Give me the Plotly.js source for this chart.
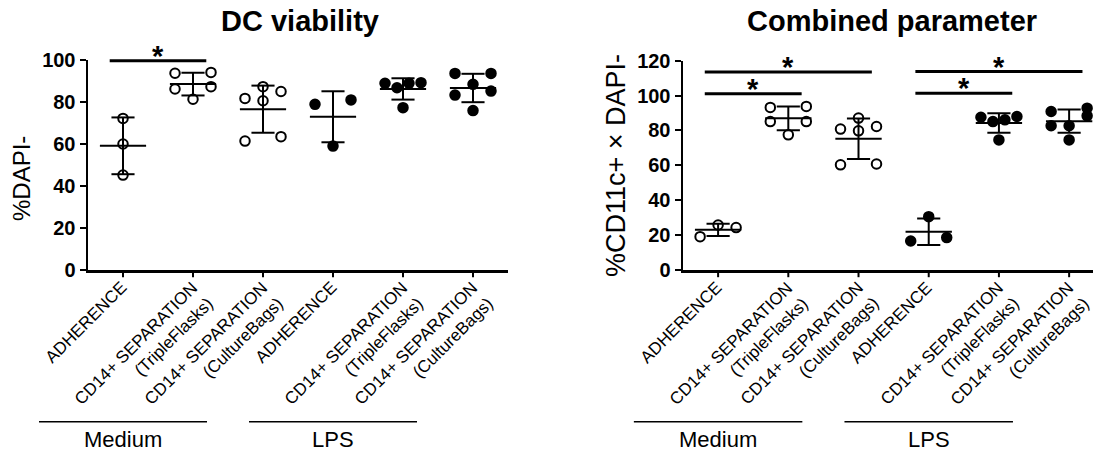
<!DOCTYPE html>
<html><head><meta charset="utf-8">
<script src="https://cdn.plot.ly/plotly-3.0.1.min.js"></script>
<style>html,body{margin:0;padding:0;background:#fff}#chart{width:1094px;height:452px}</style>
</head><body><div id="chart"></div>
<script>
// ---------------- DATA ----------------
const categories = ['ADHERENCE', 'CD14+ SEPARATION<br>(TripleFlasks)', 'CD14+ SEPARATION<br>(CultureBags)',
                    'ADHERENCE', 'CD14+ SEPARATION<br>(TripleFlasks)', 'CD14+ SEPARATION<br>(CultureBags)'];
const treatments = ['Medium', 'LPS'];          // each covers three consecutive categories
const filledGroups = [false, false, false, true, true, true];

// DC viability (%DAPI-)
const viabMedAdh = [72.2, 60.0, 45.2];
const viabMedTF  = [93.7, 94.1, 86.2, 87.3, 81.3];
const viabMedCB  = [87.3, 81.7, 80.6, 85.0, 61.4, 63.5];
const viabLpsAdh = [81.0, 78.9, 59.0];
const viabLpsTF  = [88.9, 86.8, 88.9, 89.2, 77.3];
const viabLpsCB  = [93.6, 93.6, 88.4, 85.2, 83.3, 75.9];

// Combined parameter (%CD11c+ x DAPI-)
const combMedAdh = [19.1, 25.8, 24.3];
const combMedTF  = [93.2, 93.8, 85.1, 85.1, 77.5];
const combMedCB  = [87.1, 80.8, 79.8, 82.3, 60.3, 60.8];
const combLpsAdh = [30.6, 16.6, 18.6];
const combLpsTF  = [87.6, 85.1, 86.1, 88.0, 74.6];
const combLpsCB  = [88.4, 92.8, 90.9, 82.7, 82.7, 74.6];

// significance comparisons: from group, to group, bar level
const viabSigFrom = [0];
const viabSigTo   = [1];
const viabSigLevel = [99.7];
const combSigFrom = [0, 0, 3, 3];
const combSigTo   = [1, 2, 4, 5];
const combSigLevel = [101.1, 113.5, 101.4, 113.8];

const viabTitle = 'DC viability', viabYTitle = '%DAPI-';
const combTitle = 'Combined parameter', combYTitle = '%CD11c+ × DAPI-';
const viabYTicks = [0, 20, 40, 60, 80, 100];
const combYTicks = [0, 20, 40, 60, 80, 100, 120];

// ---------------- LAYOUT / STYLE ----------------
const W = 1094, H = 452;
const FONT = '"Liberation Sans", Arial, Helvetica, sans-serif';
const MARKER = 9.5, MLINE = 2;
const ROW_PX = 10, SPREAD_PX = 18;       // beeswarm parameters
const MEAN_HALF = 0.33, CAP_HALF = 0.165, SIG_EXT = 0.19;
const XTICK_LEN = 6;
const XLAB_FS = 17, XLAB_DX = 2, XLAB_DY = 14;   // rotated category label placement

const panels = [
  { groups: [viabMedAdh, viabMedTF, viabMedCB, viabLpsAdh, viabLpsTF, viabLpsCB],
    sigFrom: viabSigFrom, sigTo: viabSigTo, sigLevel: viabSigLevel,
    title: viabTitle, ytitle: viabYTitle, yticks: viabYTicks, ytitleSize: 24,
    xa: 'x', ya: 'y', xdom: [88 / W, 508 / W], ydom: [1 - 270 / H, 1 - 60 / H],
    xr: [-0.5, 5.5], yr: [0, 100], titleX: 300, ytitleX: 21, ytitleY: 179 },
  { groups: [combMedAdh, combMedTF, combMedCB, combLpsAdh, combLpsTF, combLpsCB],
    sigFrom: combSigFrom, sigTo: combSigTo, sigLevel: combSigLevel,
    title: combTitle, ytitle: combYTitle, yticks: combYTicks, ytitleSize: 27,
    xa: 'x2', ya: 'y2', xdom: [683 / W, 1093 / W], ydom: [1 - 270 / H, 1 - 60.7 / H],
    xr: [-0.5, 5.34], yr: [0, 120], titleX: 892, ytitleX: 616, ytitleY: 166 }
];

function mean(a) { return a.reduce((s, v) => s + v, 0) / a.length; }
function sd(a) { const m = mean(a); return Math.sqrt(a.reduce((s, v) => s + (v - m) * (v - m), 0) / (a.length - 1)); }

function swarm(vals, center, pxPerX, pxPerY) {
  const idx = vals.map((v, i) => i).sort((a, b) => vals[a] - vals[b]);
  const off = new Array(vals.length).fill(0);
  let i = 0;
  while (i < idx.length) {
    const start = vals[idx[i]];
    let j = i;
    while (j < idx.length && (vals[idx[j]] - start) * pxPerY < ROW_PX) j++;
    const n = j - i;
    const slots = [];
    if (n === 1) slots.push(0);
    else for (let k = 0; k < n; k++) slots.push(-SPREAD_PX + 2 * SPREAD_PX * k / (n - 1));
    slots.sort((a, b) => (Math.abs(a) - Math.abs(b)) > 1e-9 ? 1 : (Math.abs(b) - Math.abs(a)) > 1e-9 ? -1 : a - b);
    for (let k = 0; k < n; k++) off[idx[i + k]] = slots[k] / pxPerX;
    i = j;
  }
  return vals.map((v, k) => center + off[k]);
}

const traces = [], shapes = [], annotations = [];
const layout = {
  width: W, height: H, margin: { l: 0, r: 0, t: 0, b: 0 },
  paper_bgcolor: '#fff', plot_bgcolor: '#fff', showlegend: false,
  font: { family: FONT, color: '#000' }
};

panels.forEach((p, pi) => {
  const pxPerX = (p.xdom[1] - p.xdom[0]) * W / (p.xr[1] - p.xr[0]);
  const pxPerY = (p.ydom[1] - p.ydom[0]) * H / (p.yr[1] - p.yr[0]);
  const toPx = x => p.xdom[0] + (x - p.xr[0]) / (p.xr[1] - p.xr[0]) * (p.xdom[1] - p.xdom[0]);
  const toPy = y => p.ydom[0] + (y - p.yr[0]) / (p.yr[1] - p.yr[0]) * (p.ydom[1] - p.ydom[0]);

  // points
  p.groups.forEach((vals, g) => {
    traces.push({
      type: 'scatter', mode: 'markers', xaxis: p.xa, yaxis: p.ya,
      x: swarm(vals, g, pxPerX, pxPerY), y: vals, cliponaxis: false, hoverinfo: 'y',
      marker: { symbol: 'circle', size: MARKER, color: filledGroups[g] ? '#000' : '#fff',
                line: { color: '#000', width: MLINE } }
    });
  });
  // mean +- SD
  const ex = [], ey = [];
  p.groups.forEach((vals, g) => {
    const m = mean(vals), s = sd(vals);
    ex.push(g - MEAN_HALF, g + MEAN_HALF, null); ey.push(m, m, null);
    ex.push(g, g, null); ey.push(m - s, m + s, null);
    ex.push(g - CAP_HALF, g + CAP_HALF, null); ey.push(m + s, m + s, null);
    ex.push(g - CAP_HALF, g + CAP_HALF, null); ey.push(m - s, m - s, null);
  });
  traces.push({ type: 'scatter', mode: 'lines', xaxis: p.xa, yaxis: p.ya, x: ex, y: ey,
                hoverinfo: 'skip', line: { color: '#000', width: 2 } });

  // x tick marks and rotated category labels
  const axisPxY = (1 - p.ydom[0]) * H;
  const lh = 1.3 * XLAB_FS, r2 = Math.SQRT2;
  categories.forEach((c, i) => {
    const y0 = p.ydom[0];
    shapes.push({ type: 'line', xref: 'paper', yref: 'paper', x0: toPx(i), x1: toPx(i),
                  y0: y0, y1: y0 - (XTICK_LEN + 1.2) / H, line: { color: '#000', width: 2 } });
    const n = c.split('<br>').length;
    const h = n * lh + 2;
    const qx = toPx(i) * W + XLAB_DX, qy = axisPxY + XLAB_DY;      // end of first line
    const px = qx + (n - 1) * lh / 2 / r2, py = qy + (n - 1) * lh / 2 / r2;
    const ax = px + h / (2 * r2), ay = py - h / (2 * r2);
    annotations.push({ xref: 'paper', yref: 'paper', x: ax / W, y: 1 - ay / H,
                       xanchor: 'right', yanchor: 'top', align: 'right', textangle: -45,
                       showarrow: false, text: c, font: { family: FONT, size: XLAB_FS, color: '#000' } });
  });

  // significance bars
  p.sigFrom.forEach((f, k) => {
    const x0 = f - SIG_EXT, x1 = p.sigTo[k] + SIG_EXT, yv = p.sigLevel[k];
    shapes.push({ type: 'line', xref: 'paper', yref: 'paper', x0: toPx(x0), x1: toPx(x1),
                  y0: toPy(yv), y1: toPy(yv), line: { color: '#000', width: 3 } });
    annotations.push({ xref: 'paper', yref: 'paper', x: toPx((x0 + x1) / 2), y: toPy(yv),
                       xanchor: 'center', yanchor: 'bottom', yshift: -13, showarrow: false, text: '*',
                       font: { family: FONT, size: 29, weight: 'bold', color: '#000' } });
  });

  // treatment group lines and labels
  treatments.forEach((t, ti) => {
    const c = ti * 3; // label centred under first category (rotated labels lean left)
    shapes.push({ type: 'line', xref: 'paper', yref: 'paper', x0: toPx(c - 1.2), x1: toPx(c + 1.2),
                  y0: 1 - 421.7 / H, y1: 1 - 421.7 / H, line: { color: '#000', width: 1.5 } });
    annotations.push({ xref: 'paper', yref: 'paper', x: toPx(c), y: 1 - 439 / H,
                       xanchor: 'center', yanchor: 'middle', showarrow: false, text: t,
                       font: { family: FONT, size: 22, color: '#000' } });
  });

  // titles
  annotations.push({ xref: 'paper', yref: 'paper', x: p.titleX / W, y: 1 - 21 / H,
                     xanchor: 'center', yanchor: 'middle', showarrow: false, text: p.title,
                     font: { family: FONT, size: 29, weight: 'bold', color: '#000' } });
  annotations.push({ xref: 'paper', yref: 'paper', x: p.ytitleX / W, y: 1 - p.ytitleY / H,
                     xanchor: 'center', yanchor: 'middle', showarrow: false, text: p.ytitle,
                     textangle: -90, font: { family: FONT, size: p.ytitleSize, color: '#000' } });

  const sfx = pi === 0 ? '' : '2';
  layout['xaxis' + sfx] = {
    domain: p.xdom, range: p.xr, anchor: p.ya, showgrid: false, zeroline: false,
    showline: true, linecolor: '#000', linewidth: 2.5, ticks: '', showticklabels: false,
    fixedrange: true
  };
  layout['yaxis' + sfx] = {
    domain: p.ydom, range: p.yr, anchor: p.xa, showgrid: false, zeroline: false,
    showline: true, linecolor: '#000', linewidth: 2.5, ticks: 'outside', ticklen: 6, tickwidth: 2,
    tickcolor: '#000', tickvals: p.yticks, ticklabelstandoff: 0,
    tickfont: { family: FONT, size: 20, weight: 'bold', color: '#000' }, fixedrange: true
  };
});

layout.shapes = shapes;
layout.annotations = annotations;
Plotly.newPlot('chart', traces, layout, { displayModeBar: false, staticPlot: true });
</script></body></html>
